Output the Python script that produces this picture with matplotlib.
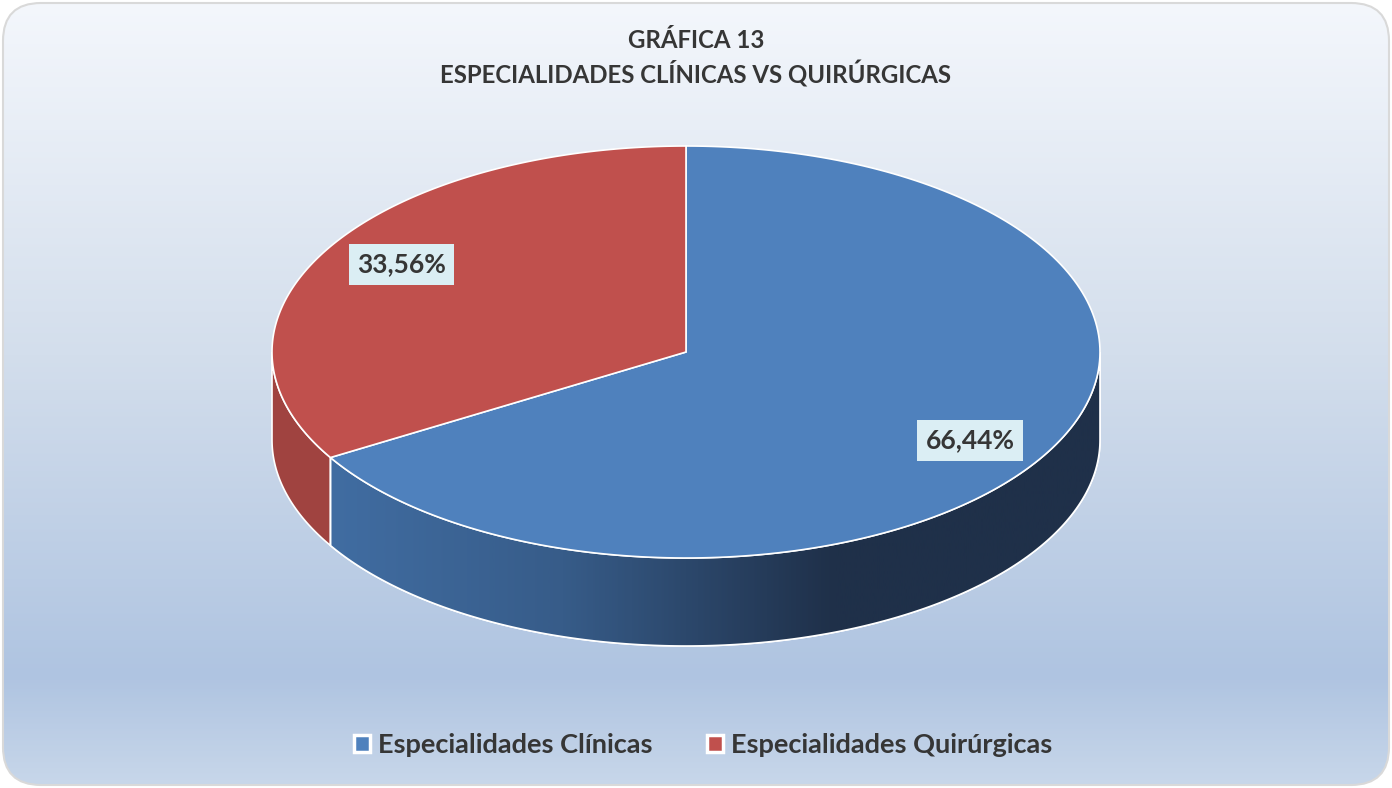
import numpy as np
import matplotlib
matplotlib.use("Agg")
import matplotlib.pyplot as plt
from matplotlib.patches import Polygon, FancyBboxPatch, Rectangle
from matplotlib.colors import LinearSegmentedColormap

# data
categorias = ["Especialidades Clínicas", "Especialidades Quirúrgicas"]
porcentajes = [66.44, 33.56]
etiquetas = ["66,44%", "33,56%"]
colores_top = ["#4f81bd", "#c0504d"]
titulo = "GRÁFICA 13\nESPECIALIDADES CLÍNICAS VS QUIRÚRGICAS"

W, H = 1392, 788
fig = plt.figure(figsize=(W / 100, H / 100), dpi=100)
ax = fig.add_axes([0, 0, 1, 1])
ax.set_xlim(0, W)
ax.set_ylim(H, 0)
ax.axis("off")

# background with rounded border and vertical gradient
bg_cmap = LinearSegmentedColormap.from_list(
    "bg", [(0, "#f4f7fc"), (0.45, "#d3deec"), (0.86, "#afc4e1"), (1.0, "#c8d7ea")])
frame = FancyBboxPatch((3, 3), W - 6, H - 6, boxstyle="round,pad=0,rounding_size=38",
                       facecolor="none", edgecolor="#d9d9d9", lw=1.5, zorder=2)
ax.add_patch(frame)
grad = np.linspace(0, 1, 400).reshape(-1, 1)
im = ax.imshow(grad, cmap=bg_cmap, extent=[0, W, H, 0], aspect="auto", zorder=0)
im.set_clip_path(frame)

# pie geometry (pixels)
cx, cy = 686, 352
rx, ry = 414, 206
depth = 88


def arc(t0, t1, n=200, dy=0):
    t = np.radians(np.linspace(t0, t1, n))
    return np.column_stack([cx + rx * np.cos(t), cy + dy - ry * np.sin(t)])


# angles: start at 90 deg, clockwise
fr = np.array(porcentajes) / sum(porcentajes)
starts = 90 - np.concatenate([[0], np.cumsum(fr)[:-1]]) * 360
ends = starts - fr * 360

# sides (visible front half: angles from -180 to 0)
side_cols = ["#1f3049", "#a04340"]
for i in range(len(porcentajes)):
    a0, a1 = ends[i], starts[i]
    for shift in (0, 360, -360):
        lo = max(a0 + shift, -180)
        hi = min(a1 + shift, 0)
        if hi > lo:
            top = arc(hi, lo)
            bot = arc(lo, hi, dy=depth)
            pts = np.vstack([top, bot])
            side = Polygon(pts, closed=True, facecolor=side_cols[i],
                           edgecolor="white", lw=1.2, zorder=3)
            ax.add_patch(side)
            if i == 0:
                side_cmap = LinearSegmentedColormap.from_list(
                    "side", [(0, "#4371a8"), (0.35, "#375c89"), (0.68, "#1f3049"), (1, "#1f3049")])
                g = np.linspace(0, 1, 400).reshape(1, -1)
                gim = ax.imshow(g, cmap=side_cmap, extent=[cx - rx, cx + rx, H, 0],
                                aspect="auto", zorder=3)
                gim.set_clip_path(side)
                edge = Polygon(pts, closed=True, facecolor="none",
                               edgecolor="white", lw=1.2, zorder=3.5)
                ax.add_patch(edge)

# top faces
for i in range(len(porcentajes)):
    pts = np.vstack([[cx, cy], arc(starts[i], ends[i])])
    ax.add_patch(Polygon(pts, closed=True, facecolor=colores_top[i],
                         edgecolor="white", lw=1.2, zorder=4))

# data labels
for i in range(len(porcentajes)):
    mid = np.radians((starts[i] + ends[i]) / 2)
    f = 0.79
    lx = cx + rx * f * np.cos(mid)
    ly = cy - ry * f * np.sin(mid) + (8 if i == 0 else -7)
    ax.text(lx, ly, etiquetas[i], ha="center", va="center", fontsize=19,
            fontweight="bold", family="Lato", color="#363636", zorder=6,
            bbox=dict(boxstyle="square,pad=0.32", facecolor="#dbeef4", edgecolor="none"))

# title
ax.text(696, 58, titulo, ha="center", va="center", fontsize=17.3, fontweight="bold",
        family="Lato", color="#363636", linespacing=1.35, zorder=6)

# legend
handles = [Rectangle((0, 0), 1, 1, facecolor=c, edgecolor="white", lw=2.5) for c in colores_top]
leg = fig.legend(handles, categorias, loc="center", bbox_to_anchor=(703 / W, 1 - 745 / H),
                 ncol=2, frameon=False, handlelength=0.6, handleheight=0.6,
                 handletextpad=0.3, columnspacing=2.0,
                 prop={"family": "Lato", "weight": "bold", "size": 19.5})
for t in leg.get_texts():
    t.set_color("#363636")

fig.savefig("out.png", dpi=100)
